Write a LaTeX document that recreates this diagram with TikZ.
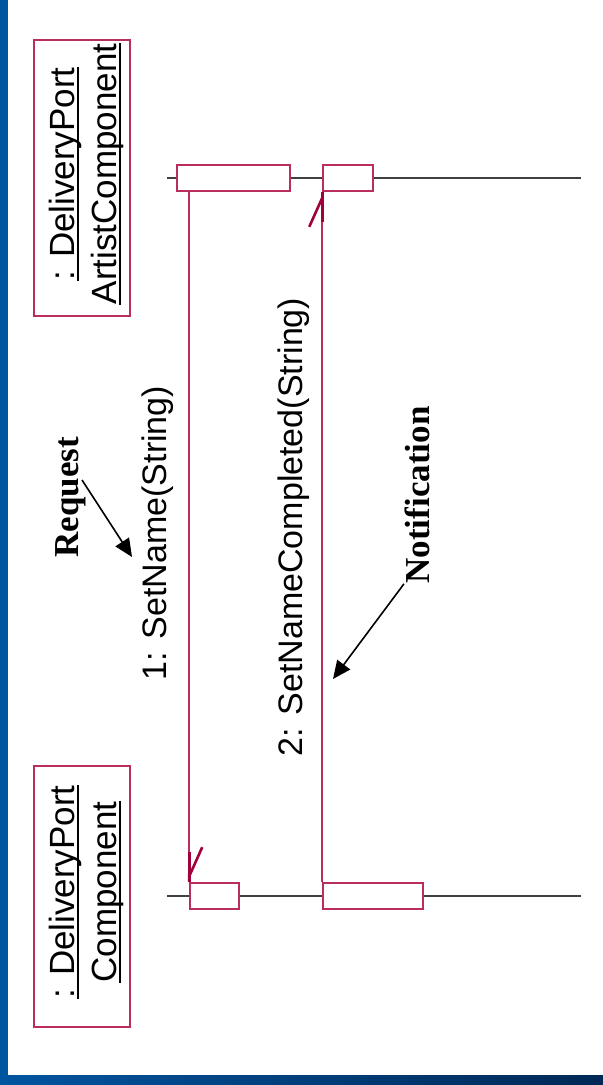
\documentclass[tikz,border=0pt]{standalone}
\usepackage{fontspec}
\setmainfont{Liberation Serif}
\setsansfont{Liberation Sans}
\usetikzlibrary{arrows.meta}

\definecolor{umlred}{RGB}{185,45,95}
\definecolor{barbred}{RGB}{160,0,60}
\definecolor{frameblue}{RGB}{0,85,160}
\definecolor{framenavy}{RGB}{0,40,85}

\tikzset{
	objbox/.style={draw=umlred, line width=0.75pt, minimum width=48pt},
	actbox/.style={draw=umlred, fill=white, line width=0.75pt, minimum height=13pt, inner sep=0pt},
	lifeline/.style={black!75, line width=0.7pt},
	msg/.style={umlred, line width=0.8pt, -{Straight Barb[harpoon, color=barbred, length=14.5pt, width=13pt, line width=1.3pt]}},
	barbshaft/.style={barbred, line width=1.3pt},
	objname/.style={font=\sffamily\fontsize{17.5}{21}\selectfont, rotate=90, anchor=base, inner sep=0pt},
	msgname/.style={font=\sffamily\fontsize{17}{20}\selectfont, rotate=90, anchor=base, inner sep=0pt},
	remark/.style={font=\rmfamily\bfseries\fontsize{17.5}{21}\selectfont, rotate=90, anchor=base, inner sep=0pt},
	pointer/.style={line width=0.8pt, -{Triangle[length=9pt, width=8pt]}},
	uline/.style={line width=1.4pt}
}

\begin{document}
\begin{tikzpicture}[x=0.5pt, y=-0.5pt]
	\useasboundingbox (0,0) rectangle (603,1085);
	\fill[frameblue] (0,0) rectangle (7.7,1085);
	\shade[left color=frameblue, right color=framenavy] (0,1075.7) rectangle (603,1085);

	\node[objbox, minimum height=138pt] (artist) at (82,178) {};
	\node[objname] (artist1) at (74,174) {: DeliveryPort};
	\node[objname] (artist2) at (116,174) {ArtistComponent};

	\node[objbox, minimum height=130.5pt] (port) at (82,896.5) {};
	\node[objname] (port1) at (74,892) {: DeliveryPort};
	\node[objname] (port2) at (116,892) {Component};

	\foreach \n in {artist1,artist2,port1,port2}
		\draw[uline] ([xshift=2pt]\n.base west) -- ([xshift=2pt]\n.base east);

	\draw[lifeline] (167,178) -- (581,178);
	\draw[lifeline] (167,896) -- (581,896);

	\node[actbox, minimum width=56.5pt] (actA1) at (233.5,178) {};
	\node[actbox, minimum width=25pt] (actA2) at (348,178) {};
	\node[actbox, minimum width=24.5pt] (actB1) at (214.5,896) {};
	\node[actbox, minimum width=50pt] (actB2) at (373,896) {};

	\draw[msg] (actA1.south -| actB1.west) -- (actB1.north west);
	\draw[msg] (actB2.north west) -- (actA2.south west);
	\draw[barbshaft] (actB1.north west) -- ++(0,-30);
	\draw[barbshaft] (actA2.south west) -- ++(0,30);

	\node[msgname] (call) at (166,533) {1: SetName(String)};
	\node[msgname] (reply) at (302,527) {2: SetNameCompleted(String)};

	\node[remark] (req) at (78,497) {Request};
	\node[remark] (note) at (429,495) {Notification};

	\coordinate (reqtail) at (82,480);
	\coordinate (reqtip) at (132,557);
	\coordinate (notetip) at (333,679);
	\draw[pointer] (reqtail) -- (reqtip);
	\draw[pointer] (note.north west) -- (notetip);
\end{tikzpicture}
\end{document}
